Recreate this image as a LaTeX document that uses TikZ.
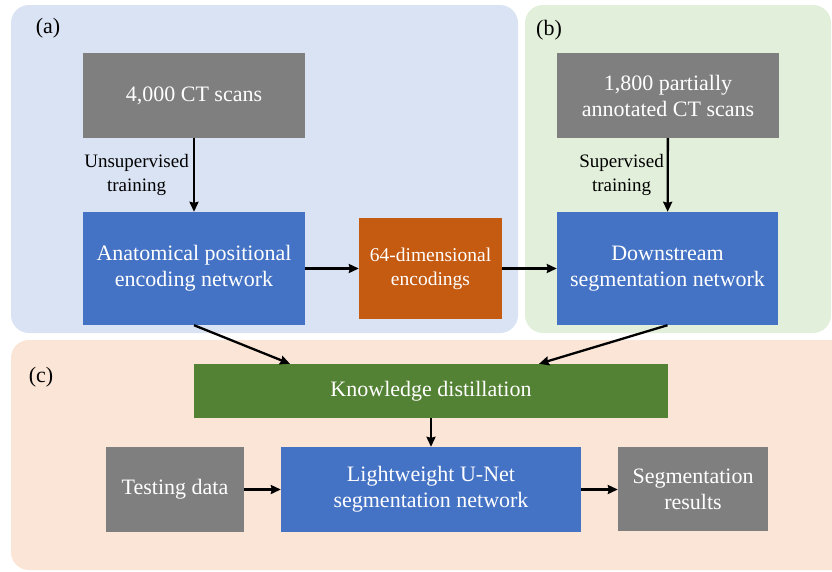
\documentclass[tikz,border=0pt]{standalone}
\usepackage{fontspec}
\setmainfont{Liberation Serif}
\usetikzlibrary{arrows.meta}

\definecolor{panelA}{HTML}{DAE3F3}
\definecolor{panelB}{HTML}{E2EFDA}
\definecolor{panelC}{HTML}{FBE5D6}
\definecolor{boxGray}{HTML}{7F7F7F}
\definecolor{boxBlue}{HTML}{4472C4}
\definecolor{boxOrange}{HTML}{C55A11}
\definecolor{boxGreen}{HTML}{548235}

\tikzset{
  panel/.style={rounded corners=18pt},
  box/.style={inner sep=0pt, align=center, text=white,
    font=\fontsize{22}{26}\selectfont},
  smallbox/.style={box, font=\fontsize{19.5}{24}\selectfont},
  lbl/.style={inner sep=0pt, align=center, font=\fontsize{19}{24}\selectfont},
  tag/.style={inner sep=0pt, font=\fontsize{22}{26}\selectfont},
  arr/.style={line width=2.3pt, -{Stealth[length=10pt,width=9pt,inset=1pt]}},
}

\begin{document}
\begin{tikzpicture}[x=1pt,y=-1pt]
\useasboundingbox (0,0) rectangle (832,571);

% background panels
\fill[panelA, panel] (11,5) rectangle (518,333);
\fill[panelB, panel] (525,5) rectangle (831,333);
\fill[panelC, panel] (11,340) rectangle (870,570);

\node[tag] (taga) at (48,28) {(a)};
\node[tag] (tagb) at (549,30) {(b)};
\node[tag] (tagc) at (41,377) {(c)};

% (a) positional encoding branch
\node[box, fill=boxGray, minimum width=222pt, minimum height=85pt] (ct) at (194,95.5) {4,000 CT scans};
\node[box, fill=boxBlue, minimum width=222pt, minimum height=113pt] (anat) at (194,268.5) {Anatomical positional\\encoding network};
\node[smallbox, fill=boxOrange, minimum width=143pt, minimum height=101pt] (enc) at (430.5,268.5) {64-dimensional\\encodings};

% (b) segmentation branch
\node[box, fill=boxGray, minimum width=222pt, minimum height=85pt] (ann) at (668,95.5) {1,800 partially\\annotated CT scans};
\node[box, fill=boxBlue, minimum width=221pt, minimum height=113pt] (down) at (667.5,268.5) {Downstream\\segmentation network};

% (c) distillation
\node[box, fill=boxGreen, minimum width=474pt, minimum height=54pt] (kd) at (431,391) {Knowledge distillation};
\node[box, fill=boxGray, minimum width=138pt, minimum height=85pt] (test) at (175,489.5) {Testing data};
\node[box, fill=boxBlue, minimum width=300pt, minimum height=85pt] (lw) at (431,489.5) {Lightweight U-Net\\segmentation network};
\node[box, fill=boxGray, minimum width=150pt, minimum height=84pt] (res) at (693,489) {Segmentation\\results};

% edge labels
\node[lbl, anchor=east] (unsup) at (189,175) {Unsupervised\\training};
\node[lbl, anchor=east] (sup) at (664,175) {Supervised\\training};

% connectors
\draw[arr] (ct) -- (anat);
\draw[arr] (ann) -- (down);
\draw[arr] (anat) -- (enc);
\draw[arr] (enc) -- (down);
\draw[arr] (anat.south) -- ([xshift=-141pt]kd.north);
\draw[arr] (down.south) -- ([xshift=108pt]kd.north);
\draw[arr] (kd) -- (lw);
\draw[arr] (test) -- (lw);
\draw[arr] (lw.east) -- (lw.east -| res.west);
\end{tikzpicture}
\end{document}
